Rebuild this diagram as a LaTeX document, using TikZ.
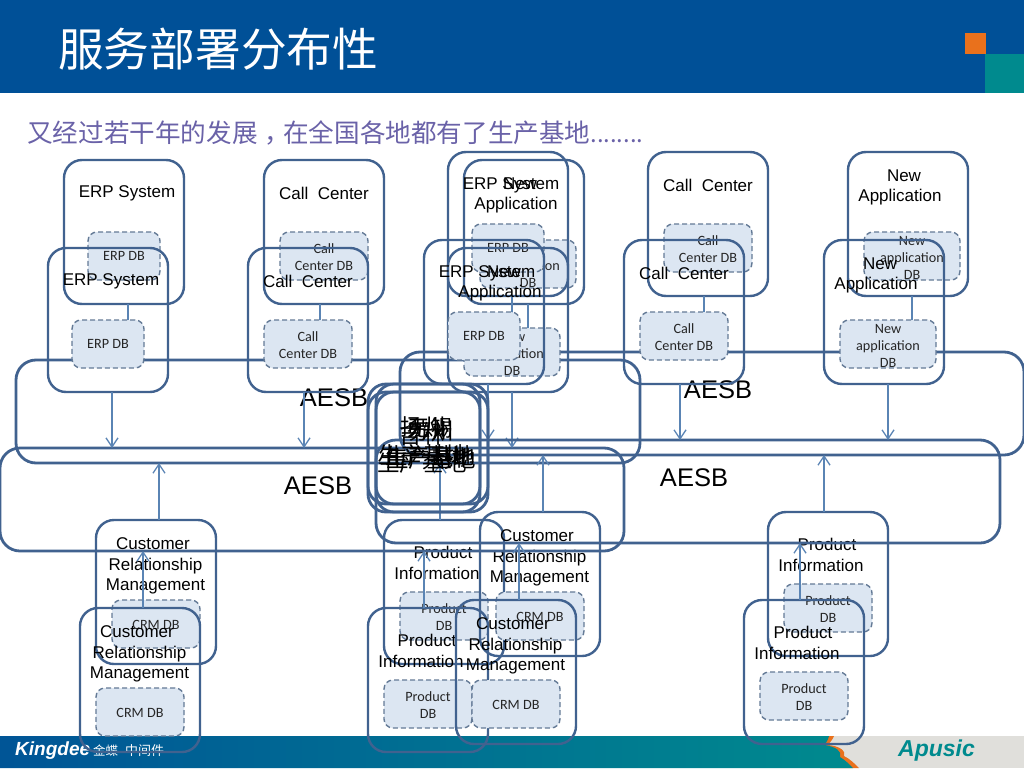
\documentclass[tikz,border=0pt]{standalone}
\usepackage{fontspec}
\setmainfont{Liberation Sans}
\newfontfamily\cjkf{Noto Sans CJK SC}
\newfontfamily\dbf{Carlito}
\usetikzlibrary{arrows.meta,shadings}
\definecolor{hdr}{HTML}{005097}
\definecolor{tealc}{HTML}{008A8E}
\definecolor{orangec}{HTML}{E9711C}
\definecolor{linec}{HTML}{41628F}
\definecolor{dbfill}{HTML}{DCE6F2}
\definecolor{dbline}{HTML}{647A96}
\definecolor{arrowc}{HTML}{5A84B4}
\definecolor{subc}{HTML}{6A62A8}
\definecolor{footg}{HTML}{E0DFDB}
\tikzset{
  box/.style={draw=linec,line width=2.4pt,rounded corners=18pt,inner sep=0pt,outer sep=0pt,minimum width=120pt,minimum height=144pt},
  busbox/.style={draw=linec,line width=2.8pt,rounded corners=20pt,inner sep=0pt,outer sep=0pt,minimum width=624pt,minimum height=103pt},
  dbbox/.style={draw=dbline,fill=dbfill,line width=1.4pt,dash pattern=on 5pt off 3pt,rounded corners=9pt,inner sep=0pt,outer sep=0pt,minimum height=48pt},
  dbtext/.style={inner sep=0pt,align=center,text=black!85,font=\dbf\fontsize{14.2}{17}\selectfont},
  systext/.style={inner sep=0pt,align=center,font=\fontsize{17}{20.5}\selectfont},
  bustext/.style={inner sep=0pt,font=\fontsize{25.5}{28}\selectfont},
  conn/.style={draw=arrowc,line width=1.4pt,-{Straight Barb[length=9pt,width=12pt,line width=1.3pt]}},
  sitebox/.style={draw=linec,line width=2.8pt,rounded corners=18pt,inner sep=0pt,outer sep=0pt,minimum width=112pt,minimum height=120pt},
  sitetext/.style={inner sep=0pt,align=center,font=\cjkf\fontsize{22.5}{28}\selectfont},
}
\newcommand{\sitegroup}[3]{%
\begin{scope}[shift={(#2,#3)},name prefix=#1-]
  \node[busbox] (bus) at (312,499.5) {};
  \node[box] (erp) at (108,320) {};
  \node[box] (call) at (308,320) {};
  \node[box] (newapp) at (508,320) {};
  \node[box] (crm) at (140,680) {};
  \node[box] (prod) at (428,680) {};
  \coordinate (ax1) at (112,0);
  \coordinate (ax2) at (304,0);
  \coordinate (ax3) at (512,0);
  \coordinate (ax4) at (143,0);
  \coordinate (ax5) at (424,0);
  \draw[conn] (erp.south -| ax1) -- (bus.north -| ax1);
  \draw[conn] (call.south -| ax2) -- (bus.north -| ax2);
  \draw[conn] (newapp.south -| ax3) -- (bus.north -| ax3);
  \draw[conn] (crm.north -| ax4) -- (bus.south -| ax4);
  \draw[conn] (prod.north -| ax5) -- (bus.south -| ax5);
  \node[dbbox,minimum width=72pt] (erpdb) at (108,344) {};
  \node[dbbox,minimum width=88pt] (calldb) at (308,344) {};
  \node[dbbox,minimum width=96pt] (newdb) at (512,352) {};
  \node[dbbox,minimum width=88pt] (crmdb) at (140,712) {};
  \node[dbbox,minimum width=88pt] (proddb) at (428,704) {};
  \node[dbtext] (erpdbt) at (108,343.5) {ERP DB};
  \node[dbtext] (calldbt) at (308,345) {Call\\Center DB};
  \node[dbtext] (newdbt) at (512,353.5) {New\\application\\DB};
  \node[dbtext] (crmdbt) at (140,712.5) {CRM DB};
  \node[dbtext] (proddbt) at (428,705) {Product\\DB};
  \node[systext] (erpt) at (111,281) {ERP System};
  \node[systext] (callt) at (308,281) {Call\ \ Center};
  \node[systext] (newt) at (500,283.5) {\hspace*{8pt}New\\Application};
  \node[systext] (crmt) at (139.5,654) {Customer\hspace*{5pt}\\Relationship\hspace*{4pt}\\Management};
  \node[systext] (prodt) at (421,651) {\hspace*{12pt}Product\\Information};
  \node[bustext] (bust) at (318,486) {AESB};
\end{scope}}
\begin{document}
\begin{tikzpicture}[x=1pt,y=-1pt]
\useasboundingbox (0,0) rectangle (1024,768);
\fill[white] (0,0) rectangle (1024,768);
% header
\fill[hdr] (0,0) rectangle (1024,92.5);
\fill[tealc] (985,54) rectangle (1024,92.5);
\fill[orangec] (964.5,33) rectangle (986,54);
\node[inner sep=0pt,anchor=west,text=white,font=\cjkf\fontsize{45.7}{50}\selectfont] (title) at (58,49) {服务部署分布性};
\node[inner sep=0pt,anchor=west,text=subc,font=\cjkf\fontsize{25.6}{28}\selectfont] (subtitle) at (27,133) {又经过若干年的发展\makebox[25.6pt][l]{\hspace{7pt}，}在全国各地都有了生产基地{\fontsize{23.8}{28}\selectfont ........}};
% footer
\fill[footg] (800,736) rectangle (1024,768);
\fill[orangec] (826,736) -- (834,736) .. controls (832,741) and (829,743) .. (828,745) .. controls (840,746) and (846,751) .. (844,756) .. controls (850,759) and (855,764) .. (859,768) -- (820,768) -- cycle;
\shade[left color=hdr!92!tealc,right color=tealc] (0,736) -- (829,736) .. controls (828,741) and (825,743) .. (825,745) .. controls (836,747) and (842,751) .. (840,757) .. controls (845,760) and (849,764) .. (853,768) -- (0,768) -- cycle;
\node[inner sep=0pt,anchor=west,text=white,font=\bfseries\itshape\fontsize{19}{20}\selectfont] (kingdee) at (15,751) {Kingdee};
\node[inner sep=0pt,anchor=west,text=white,font=\cjkf\fontsize{12.5}{14}\selectfont] (jd) at (93,751) {金蝶};
\node[inner sep=0pt,anchor=west,text=white,font=\cjkf\fontsize{13}{14}\selectfont] (zjj) at (125,751) {中间件};
\node[inner sep=0pt,anchor=west,text=tealc,font=\bfseries\itshape\fontsize{23}{24}\selectfont] (apusic) at (898,751) {Apusic};
% site groups
\sitegroup{g2}{16}{-88}
\sitegroup{g3}{400}{-96}
\sitegroup{g1}{0}{0}
\sitegroup{g4}{376}{-8}
% central site boxes
\node[sitebox] (s1) at (424,444) {};
\node[sitebox] (s2) at (432,444) {};
\node[sitebox] (s3) at (424,452) {};
\node[sitebox] (s4) at (432,452) {};
\node[sitetext] (t1) at (423,441) {扬州\\生产基地};
\node[sitetext] (t2) at (431,445) {苏州\\生产基地};
\node[sitetext] (t3) at (422,449) {吉林\\生产基地};
\node[sitetext] (t4) at (430,442) {无锡\\生产基地};
\end{tikzpicture}
\end{document}
